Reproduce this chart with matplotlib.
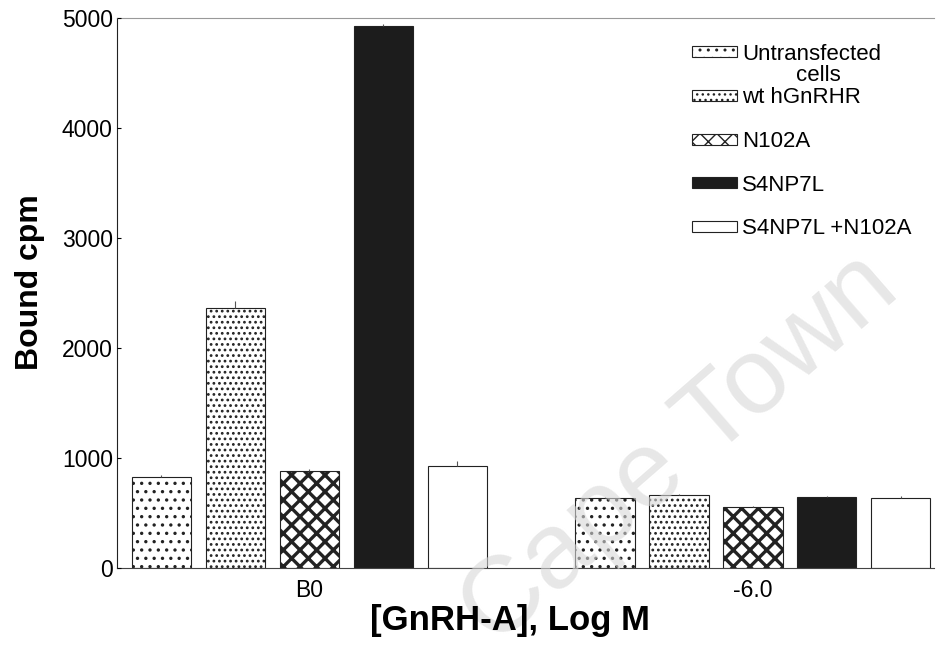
import matplotlib.pyplot as plt
from matplotlib.patches import Patch
import numpy as np

plt.rcParams['font.family'] = ['Liberation Sans', 'DejaVu Sans']

groups = ['B0', '-6.0']
series = ['Untransfected', 'wt hGnRHR', 'N102A', 'S4NP7L', 'S4NP7L +N102A']
bound_b0 = [830, 2360, 880, 4930, 925]
bound_m6 = [635, 665, 555, 645, 640]
err_b0 = [15, 70, 20, 20, 45]
err_m6 = [10, 10, 10, 10, 10]

hatches = ['..', '...', 'xx', '', '']
hatch_lw = [1.2, 1.2, 2.4, 1.0, 1.0]
faces = ['white', 'white', 'white', '#1c1c1c', 'white']

fig = plt.figure(figsize=(9.36, 6.52), dpi=100)
ax = fig.add_axes([0.125, 0.129, 0.873, 0.843])

values = np.array([bound_b0, bound_m6])
errors = np.array([err_b0, err_m6])
n = len(series)
handles = []
for i in range(n):
    plt.rcParams['hatch.linewidth'] = hatch_lw[i]
    x = np.arange(len(groups)) * (n + 1) + i
    ax.bar(x, values[:, i], width=0.8, color=faces[i], hatch=hatches[i],
           edgecolor='#222222', linewidth=0.8, zorder=2)
    ax.errorbar(x, values[:, i], yerr=[np.zeros(len(groups)), errors[:, i]],
                fmt='none', ecolor='#555555', elinewidth=0.8, capsize=0, zorder=3)
    handles.append(Patch(facecolor=faces[i], hatch=hatches[i],
                         edgecolor='#222222', linewidth=0.8, label=series[i]))

ax.set_xlim(-0.6, 10.45)
ax.set_ylim(0, 5000)
ax.set_yticks([0, 1000, 2000, 3000, 4000, 5000])
ax.set_xticks(np.arange(len(groups)) * (n + 1) + (n - 1) / 2)
ax.set_xticklabels(groups)
ax.tick_params(axis='y', direction='in', length=3, labelsize=16.5, pad=3)
ax.tick_params(axis='x', length=0, labelsize=16.5, pad=8)

ax.spines['right'].set_visible(False)
ax.spines['top'].set_color('#999999')
ax.spines['top'].set_linewidth(0.8)
ax.spines['left'].set_color('#222222')
ax.spines['bottom'].set_color('#444444')

ax.set_ylabel('Bound cpm', fontsize=23, fontweight='bold')
ax.yaxis.set_label_coords(-0.088, 0.52)
ax.set_xlabel('[GnRH-A], Log M', fontsize=25, fontweight='bold')
ax.xaxis.set_label_coords(0.481, -0.065)
ax.xaxis.set_zorder(4)
ax.yaxis.set_zorder(4)

leg = ax.legend(handles=handles, loc='upper right', bbox_to_anchor=(0.997, 0.99),
                frameon=False, fontsize=16, handlelength=2.0, handleheight=0.4,
                handletextpad=0.25, labelspacing=1.02)
# second line of the first entry sits under its label
ax.annotate('cells', xy=(0.5, 0), xycoords=leg.get_texts()[0],
            xytext=(5, 0), textcoords='offset points', ha='center', va='top',
            fontsize=16, zorder=6)

# faint watermark over the bars, under the axis labels
ax.text(0.726, 0.31, 'Cape Town', transform=fig.transFigure, fontsize=78,
        color='#d8d8d8', alpha=0.6, rotation=41, ha='center', va='center',
        zorder=3.5, clip_on=False)

fig.savefig('out.png', dpi=100)
